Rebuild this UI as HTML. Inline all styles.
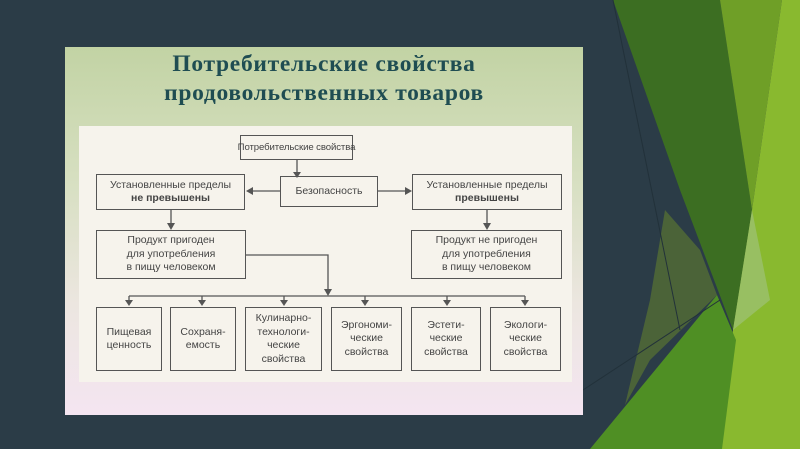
<!DOCTYPE html>
<html><head><meta charset="utf-8"><style>
html,body{margin:0;padding:0;width:800px;height:449px;overflow:hidden;background:#2b3c47;}
#panel{position:absolute;left:65px;top:47px;width:518px;height:368px;background:linear-gradient(#c2d3a4 0%,#d6dfc0 35%,#ece6e0 70%,#f4e5f1 100%);}
#title{position:absolute;left:65px;top:50px;width:518px;text-align:center;font:bold 23.5px/29px "Liberation Serif",serif;letter-spacing:0.7px;color:#1f4d52;}
#diag{position:absolute;left:79px;top:126px;width:493px;height:256px;background:#f6f3ec;}
.b{position:absolute;border:1.3px solid #555;box-sizing:border-box;display:flex;align-items:center;justify-content:center;text-align:center;font:10.5px/13.5px "Liberation Sans",sans-serif;color:#444;white-space:nowrap;}
.b>span{display:block;}
svg{position:absolute;left:0;top:0;}
</style></head><body>
<svg width="800" height="449">
<polygon points="613,0 720,0 752,210 733,330 680,190" fill="#3c6e22"/>
<polygon points="720,0 782,0 752,210" fill="#6f9f27"/>
<polygon points="782,0 800,0 800,449 718,449 733,330 752,210" fill="#89b92f"/>
<polygon points="752,210 770,300 733,330" fill="#98bf62"/>
<polygon points="665,210 700,250 717,295 650,360 625,405 650,300" fill="#4b6338"/>
<polygon points="590,449 717,295 736,340 722,449" fill="#4f8f24"/>
<line x1="613" y1="0" x2="680" y2="330" stroke="#22313a" stroke-width="1"/>
<line x1="583" y1="390" x2="720" y2="300" stroke="#22313a" stroke-width="1"/>
</svg>
<div id="panel"></div>
<div id="title">Потребительские свойства<br>продовольственных товаров</div>
<div id="diag"></div>
<svg width="800" height="449">
<g stroke="#555" stroke-width="1.3" fill="none">
<line x1="297" y1="160" x2="297" y2="173"/>
<line x1="280" y1="191" x2="253" y2="191"/>
<line x1="378" y1="191" x2="405" y2="191"/>
<line x1="171" y1="210" x2="171" y2="224"/>
<line x1="487" y1="210" x2="487" y2="224"/>
<polyline points="246,255 328,255 328,290"/>
<line x1="129" y1="296" x2="525" y2="296"/>
<line x1="129" y1="296" x2="129" y2="301"/><line x1="202" y1="296" x2="202" y2="301"/>
<line x1="284" y1="296" x2="284" y2="301"/><line x1="365" y1="296" x2="365" y2="301"/>
<line x1="447" y1="296" x2="447" y2="301"/><line x1="525" y1="296" x2="525" y2="301"/>
</g>
<g fill="#555">
<polygon points="293,172 301,172 297,178"/>
<polygon points="253,187 253,195 246,191"/>
<polygon points="405,187 405,195 412,191"/>
<polygon points="167,223 175,223 171,230"/>
<polygon points="483,223 491,223 487,230"/>
<polygon points="324,289 332,289 328,296"/>
<polygon points="125,300 133,300 129,306"/><polygon points="198,300 206,300 202,306"/>
<polygon points="280,300 288,300 284,306"/><polygon points="361,300 369,300 365,306"/>
<polygon points="443,300 451,300 447,306"/><polygon points="521,300 529,300 525,306"/>
</g>
</svg>
<div class="b" style="left:240px;top:135px;width:113px;height:25px;font-size:9.6px;letter-spacing:-0.1px;"><span>Потребительские свойства</span></div>
<div class="b" style="left:280px;top:176px;width:98px;height:31px;"><span>Безопасность</span></div>
<div class="b" style="left:96px;top:174px;width:149px;height:36px;"><span>Установленные пределы<br><b>не превышены</b></span></div>
<div class="b" style="left:412px;top:174px;width:150px;height:36px;"><span>Установленные пределы<br><b>превышены</b></span></div>
<div class="b" style="left:96px;top:230px;width:150px;height:49px;"><span>Продукт пригоден<br>для употребления<br>в пищу человеком</span></div>
<div class="b" style="left:411px;top:230px;width:151px;height:49px;"><span>Продукт не пригоден<br>для употребления<br>в пищу человеком</span></div>
<div class="b" style="left:96px;top:307px;width:66px;height:64px;"><span>Пищевая<br>ценность</span></div>
<div class="b" style="left:170px;top:307px;width:66px;height:64px;"><span>Сохраня-<br>емость</span></div>
<div class="b" style="left:245px;top:307px;width:77px;height:64px;"><span>Кулинарно-<br>технологи-<br>ческие<br>свойства</span></div>
<div class="b" style="left:331px;top:307px;width:71px;height:64px;"><span>Эргономи-<br>ческие<br>свойства</span></div>
<div class="b" style="left:411px;top:307px;width:70px;height:64px;"><span>Эстети-<br>ческие<br>свойства</span></div>
<div class="b" style="left:490px;top:307px;width:71px;height:64px;"><span>Экологи-<br>ческие<br>свойства</span></div>
</body></html>
